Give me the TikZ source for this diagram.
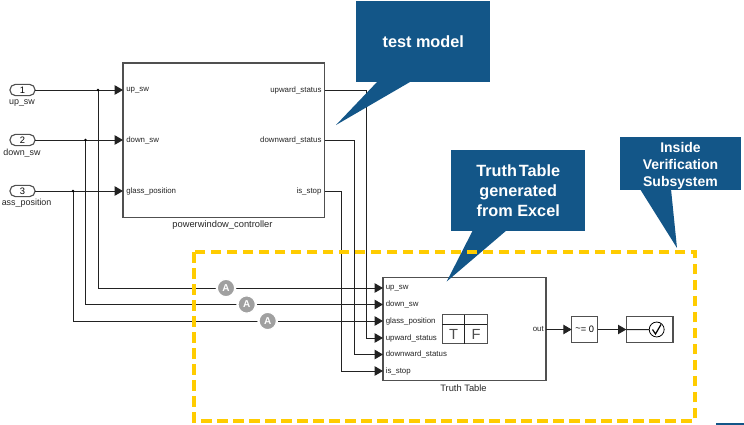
\documentclass[tikz,border=0pt]{standalone}
\usepackage{fontspec}
\setmainfont{Liberation Sans}
\usetikzlibrary{arrows.meta,calc}
\definecolor{callblue}{HTML}{135688}
\definecolor{dashyellow}{HTML}{FFCC00}
\definecolor{wire}{HTML}{222222}
\definecolor{edge}{HTML}{505050}
\definecolor{agray}{HTML}{A0A0A0}
\tikzset{
  x=0.75pt,y=-0.75pt,
  block/.style={draw=edge,line width=0.85pt,fill=white,inner sep=0pt,outer sep=0pt},
  wirel/.style={draw=wire,line width=0.75pt},
  sig/.style={wirel,-{Triangle[length=6.2pt,width=7pt]},shorten >=0pt},
  port/.style={font=\fontsize{5.9pt}{7pt}\selectfont,text=black!85,inner sep=0pt},
  caption/.style={font=\fontsize{7pt}{8pt}\selectfont,text=black!85,inner sep=0pt},
  sidelabel/.style={font=\fontsize{6.7pt}{8pt}\selectfont,text=black!85,inner sep=0pt},
  inport/.style={block,rounded corners=4pt,minimum width=18.75pt,minimum height=8.4pt,font=\fontsize{7pt}{8pt}\selectfont},
  dot/.style={circle,fill=black,inner sep=0pt,minimum size=2.2pt},
  gap/.style={circle,fill=white,minimum size=15.5pt,inner sep=0pt},
  goto/.style={circle,fill=agray,draw=white,line width=0.9pt,text=white,inner sep=0pt,minimum size=13pt,font=\bfseries\fontsize{7.5pt}{8pt}\selectfont},
  callout/.style={fill=callblue,text=white,inner sep=0pt,align=center,font=\bfseries\fontsize{12.2pt}{15pt}\selectfont},
  calltail/.style={fill=callblue,draw=none},
  frame/.style={draw=dashyellow,line width=3pt,dash pattern=on 8pt off 4pt}
}
\begin{document}
\begin{tikzpicture}
\useasboundingbox (0,0) rectangle (744,425);
% blocks
\node[block,minimum width=151.3pt,minimum height=116pt,anchor=north west] (ctrl) at (123,63) {};
\node[block,minimum width=122.2pt,minimum height=77.2pt,anchor=north west] (tt) at (383,277.7) {};
\node[block,minimum width=19.5pt,minimum height=19.2pt,anchor=north west,font=\fontsize{7pt}{8pt}\selectfont] (cmp) at (571.7,316.7) {\raisebox{1pt}{\textasciitilde}= 0};
\node[block,minimum width=35pt,minimum height=19.2pt,anchor=north west] (chk) at (626.3,316.7) {};
\node[inport] (in1) at (22.5,90) {1};
\node[inport] (in2) at (22.5,140) {2};
\node[inport] (in3) at (22.5,191) {3};
\node[sidelabel] (l1) at (22,103) {up\_sw};
\node[sidelabel] (l2) at (22,153) {down\_sw};
\node[sidelabel,anchor=east] (l3) at (51.7,203) {ass\_position};
\node[caption] (c1) at (222.5,225) {powerwindow\_controller};
\node[caption] (c2) at (463.5,388) {Truth Table};
% port coordinates
\coordinate (a1) at (ctrl.west |- in1);
\coordinate (a2) at (ctrl.west |- in2);
\coordinate (a3) at (ctrl.west |- in3);
\coordinate (b1) at (ctrl.east |- in1);
\coordinate (b2) at (ctrl.east |- in2);
\coordinate (b3) at (ctrl.east |- in3);
\coordinate (t1) at (383,288);
\coordinate (t2) at (383,304.5);
\coordinate (t3) at (383,321);
\coordinate (t4) at (383,338);
\coordinate (t5) at (383,354.5);
\coordinate (t6) at (383,371);
\coordinate (j1) at (98,90);
\coordinate (j2) at (85.5,140);
\coordinate (j3) at (73,191);
% port labels
\node[port,anchor=west] at ($(a1)+(3,0)$) {up\_sw};
\node[port,anchor=west] at ($(a2)+(3,0)$) {down\_sw};
\node[port,anchor=west] at ($(a3)+(3,0)$) {glass\_position};
\node[port,anchor=east] at ($(b1)+(-3,0)$) {upward\_status};
\node[port,anchor=east] at ($(b2)+(-3,0)$) {downward\_status};
\node[port,anchor=east] at ($(b3)+(-3,0)$) {is\_stop};
\node[port,anchor=west] at ($(t1)+(2.5,0)$) {up\_sw};
\node[port,anchor=west] at ($(t2)+(2.5,0)$) {down\_sw};
\node[port,anchor=west] at ($(t3)+(2.5,0)$) {glass\_position};
\node[port,anchor=west] at ($(t4)+(2.5,0)$) {upward\_status};
\node[port,anchor=west] at ($(t5)+(2.5,0)$) {downward\_status};
\node[port,anchor=west] at ($(t6)+(2.5,0)$) {is\_stop};
\node[port,anchor=east] at (544,329.3) {out};
% TF icon
\node[block,minimum width=33.75pt,minimum height=21.75pt,anchor=north west] (tf) at (442.3,314.7) {};
\draw[wirel] (442.3,324.7) -- (487.3,324.7) (464.8,314.7) -- (464.8,343.7);
\node[inner sep=0pt,font=\fontsize{11pt}{12pt}\selectfont,text=black!70] (tfT) at (453.5,334.5) {T};
\node[inner sep=0pt,font=\fontsize{11pt}{12pt}\selectfont,text=black!70] (tfF) at (476,334.5) {F};
% check icon
\node[circle,draw=black,line width=0.6pt,fill=white,minimum size=11.2pt,inner sep=0pt] (chkc) at (656.7,329.5) {};
\draw[line width=0.9pt] (652.5,329.5) -- (655.5,334) -- (661,324.5);
% wires
\draw[sig] (in1) -- (a1);
\draw[sig] (in2) -- (a2);
\draw[sig] (in3) -- (a3);
\draw[sig] (j1) -- (98,288) -- (t1);
\draw[sig] (j2) -- (85.5,304.5) -- (t2);
\draw[sig] (j3) -- (73,321) -- (t3);
\draw[sig] (b1) -- (366.7,90) -- (366.7,338) -- (t4);
\draw[sig] (b2) -- (354,140) -- (354,354.5) -- (t5);
\draw[sig] (b3) -- (341.7,191) -- (341.7,371) -- (t6);
\draw[sig] (tt.east |- cmp) -- (cmp);
\draw[sig] (cmp) -- (chk.west);
\draw[wirel] (chk.west) -- (chkc);
\node[dot] at (j1) {};
\node[dot] at (j2) {};
\node[dot] at (j3) {};
% goto tags
\node[gap] at (226,288) {};
\node[gap] at (246.7,304.5) {};
\node[gap] at (267.7,321) {};
\node[goto] (g1) at (226,288) {A};
\node[goto] (g2) at (246.7,304.5) {A};
\node[goto] (g3) at (267.7,321) {A};
% callouts
\node[callout,minimum width=100.5pt,minimum height=60.75pt,anchor=north west] (cm) at (356,1) {test model};
\fill[calltail] (378,81) -- (336,125) -- (411.7,81) -- cycle;
\node[callout,minimum width=100.5pt,minimum height=60.75pt,anchor=north west] (ct) at (451,149.5) {Truth\hspace{1.5pt}Table\\generated\\from Excel};
\fill[calltail] (473,230) -- (446.7,281.5) -- (507,230) -- cycle;
\node[callout,minimum width=90.75pt,minimum height=39.75pt,anchor=north west] (ci) at (620,137) {};
\node[callout,anchor=center,font=\bfseries\fontsize{10.5pt}{12.75pt}\selectfont,fill=none] (cit) at (680.5,165.5) {Inside\\Verification\\Subsystem};
\fill[calltail] (640,189) -- (677,248) -- (671,189) -- cycle;
% dashed frame
\draw[frame] (194,252) rectangle (695,420.7);
% page edge mark
\fill[callblue] (716,423) rectangle (744,425);
\end{tikzpicture}
\end{document}
